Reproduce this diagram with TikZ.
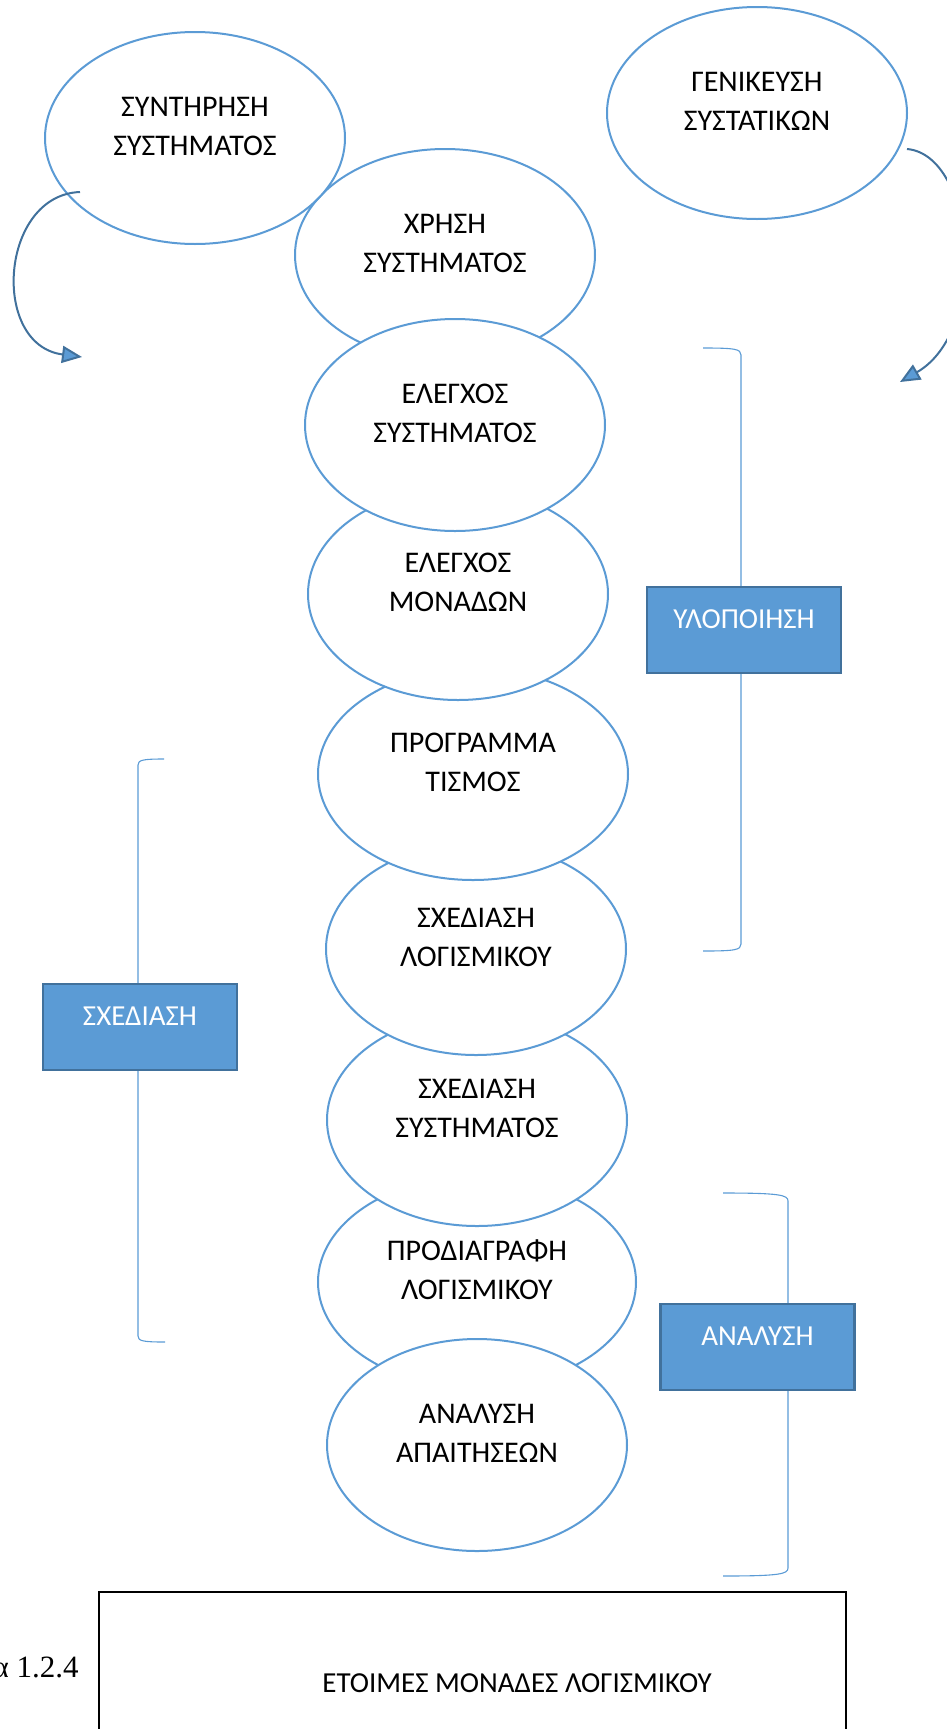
\documentclass[tikz,border=0pt]{standalone}
\usepackage{fontspec}
\setmainfont{Carlito}
\newfontfamily\figfont{Liberation Serif}
\usetikzlibrary{shapes.geometric,arrows.meta}
\definecolor{stageblue}{HTML}{5B9BD5}
\definecolor{edgeblue}{HTML}{41719C}
\begin{document}
\begin{tikzpicture}[x=0.5pt, y=-0.5pt]

\tikzstyle{stage}=[ellipse, draw=stageblue, line width=1pt, fill=white, minimum width=150pt, minimum height=106pt, inner sep=0pt, align=center, font=\fontsize{15}{19.5}\selectfont, text depth=12pt]
\tikzstyle{phase}=[rectangle, draw=edgeblue, line width=1.2pt, fill=stageblue, text=white, minimum width=97pt, minimum height=43pt, inner sep=0pt, text height=20.5pt, text depth=22.5pt, font=\fontsize{14.5}{17}\selectfont]
\tikzstyle{phasebracket}=[draw=stageblue, line width=0.55pt]
\tikzstyle{turnarrow}=[-{Triangle[length=10pt, width=8.5pt, fill=stageblue]}, draw=edgeblue, line width=1pt]
\tikzstyle{readybox}=[rectangle, draw=black, line width=1.3pt, minimum width=373.5pt, minimum height=108pt, inner sep=0pt]

\useasboundingbox (0,0) rectangle (947,1729);

% brackets first, the boxes sit on them
\draw[phasebracket] (703,348) .. controls (735,348) and (741,349) .. (741,355) -- (741,944) .. controls (741,950) and (735,951) .. (703,951);
\draw[phasebracket] (164,759) .. controls (143,759) and (138,760) .. (138,765) -- (138,1336) .. controls (138,1341) and (143,1342) .. (165,1342);
\draw[phasebracket] (723,1193) .. controls (780,1193) and (788,1195) .. (788,1201) -- (788,1568) .. controls (788,1574) and (780,1576) .. (723,1576);

% the stages, bottom ones first
\node (spec) [stage, minimum width=159pt] at (477,1282) {ΠΡΟΔΙΑΓΡΑΦΗ\\ΛΟΓΙΣΜΙΚΟΥ};
\node (req) [stage] at (477,1445) {ΑΝΑΛΥΣΗ\\ΑΠΑΙΤΗΣΕΩΝ};
\node (sysdes) [stage] at (477,1120) {ΣΧΕΔΙΑΣΗ\\ΣΥΣΤΗΜΑΤΟΣ};
\node (swdes) [stage] at (476,949) {ΣΧΕΔΙΑΣΗ\\ΛΟΓΙΣΜΙΚΟΥ};
\node (coding) [stage, minimum width=155pt] at (473,774) {ΠΡΟΓΡΑΜΜΑ\\ΤΙΣΜΟΣ};
\node (unittest) [stage] at (458,594) {ΕΛΕΓΧΟΣ\\ΜΟΝΑΔΩΝ};
\node (use) [stage] at (445,255) {ΧΡΗΣΗ\\ΣΥΣΤΗΜΑΤΟΣ};
\node (systest) [stage] at (455,425) {ΕΛΕΓΧΟΣ\\ΣΥΣΤΗΜΑΤΟΣ};
\node (maint) [stage] at (195,138) {ΣΥΝΤΗΡΗΣΗ\\ΣΥΣΤΗΜΑΤΟΣ};
\node (general) [stage] at (757,113) {ΓΕΝΙΚΕΥΣΗ\\ΣΥΣΤΑΤΙΚΩΝ};

\node (impl) [phase] at (744,630) {ΥΛΟΠΟΙΗΣΗ};
\node (design) [phase] at (140,1027) {ΣΧΕΔΙΑΣΗ};
\node (analysis) [phase] at (757.5,1347) {ΑΝΑΛΥΣΗ};

\coordinate (maintout) at (80,192);
\coordinate (maintin) at (82,357);
\coordinate (genout) at (907,149);
\coordinate (genin) at (900,382);
\draw [turnarrow] (maintout) .. controls (0,195) and (-10,345) .. (maintin);
\draw [turnarrow] (genout) .. controls (975,155) and (990,330) .. (genin);

\node (ready) [readybox] at (472.5,1700) {};
\node (readytext) [anchor=base, font=\fontsize{14.5}{17}\selectfont] at (517,1692) {ΕΤΟΙΜΕΣ ΜΟΝΑΔΕΣ ΛΟΓΙΣΜΙΚΟΥ};
\node (figno) [anchor=base east, inner sep=0pt, font=\figfont\fontsize{15.5}{18}\selectfont] at (79,1677) {α 1.2.4};

\end{tikzpicture}
\end{document}
